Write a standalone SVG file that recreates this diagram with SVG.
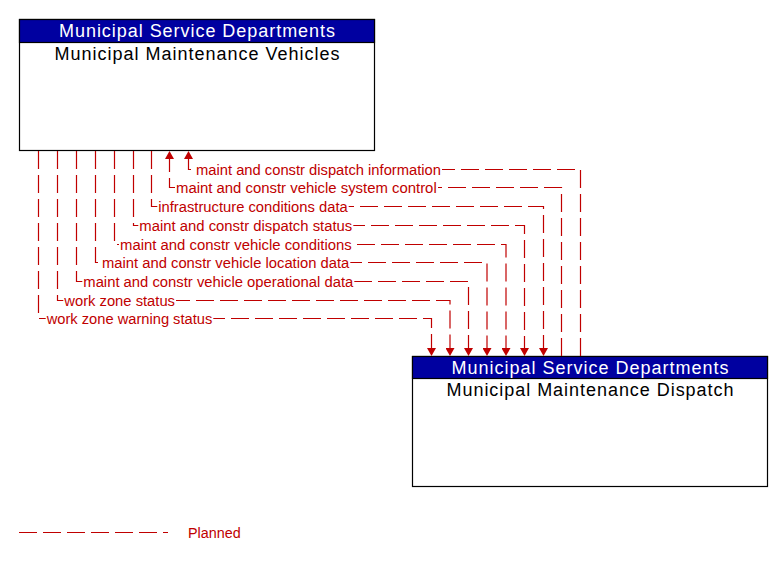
<svg xmlns="http://www.w3.org/2000/svg" width="783" height="561" viewBox="0 0 783 561">
<style>
.box{fill:#ffffff;stroke:#000000;stroke-width:1.2}
.hdr{fill:#0000a0;stroke:#000000;stroke-width:1.2}
.htxt{font-family:"Liberation Sans",Arial,sans-serif;font-size:18px;fill:#ffffff;text-anchor:middle}
.ntxt{font-family:"Liberation Sans",Arial,sans-serif;font-size:18px;fill:#000000;text-anchor:middle}
.flow{fill:none;stroke:#c00000;stroke-width:1.2;stroke-dasharray:18 6}
.lbl{font-family:"Liberation Sans",Arial,sans-serif;font-size:14.75px;fill:#c00000}
.bg{fill:#ffffff}
</style>
<defs>
<marker id="arr" markerUnits="userSpaceOnUse" markerWidth="8" markerHeight="9" viewBox="0 0 8 9" refX="8" refY="4.5" orient="auto">
<path d="M0,0 L8,4.5 L0,9 z" fill="#c00000"/>
</marker>
</defs>
<g id="node-vehicles">
<rect class="box" x="19.5" y="19.5" width="355" height="131"/>
<rect class="hdr" x="19.5" y="19.5" width="355" height="23"/>
<text class="htxt" x="197" y="37" textLength="276" lengthAdjust="spacing">Municipal Service Departments</text>
<text class="ntxt" x="197" y="60" textLength="285" lengthAdjust="spacing">Municipal Maintenance Vehicles</text>
</g>
<g id="node-dispatch">
<rect class="box" x="412.5" y="356.5" width="355" height="130"/>
<rect class="hdr" x="412.5" y="356.5" width="355" height="22"/>
<text class="htxt" x="590" y="374" textLength="277" lengthAdjust="spacing">Municipal Service Departments</text>
<text class="ntxt" x="590" y="396" textLength="287" lengthAdjust="spacing">Municipal Maintenance Dispatch</text>
</g>
<g id="connectors">
<path class="flow" d="M580.5,356 V169.5 H188.5 V151" marker-end="url(#arr)"/>
<path class="flow" d="M561.5,356 V187.5 H169.5 V151" marker-end="url(#arr)"/>
<path class="flow" d="M151.5,151 V206.5 H543.5 V356" marker-end="url(#arr)"/>
<path class="flow" d="M133.5,151 V225.5 H524.5 V356" marker-end="url(#arr)"/>
<path class="flow" d="M114.5,151 V244.5 H506 V356" marker-end="url(#arr)"/>
<path class="flow" d="M95.5,151 V262.5 H487 V356" marker-end="url(#arr)"/>
<path class="flow" d="M76.5,151 V281.5 H468.5 V356" marker-end="url(#arr)"/>
<path class="flow" d="M57.5,151 V300.5 H450 V356" marker-end="url(#arr)"/>
<path class="flow" d="M38.5,151 V318.5 H431.5 V356" marker-end="url(#arr)"/>
<rect class="bg" x="195" y="167.5" width="247" height="4"/>
<text class="lbl" x="196" y="174.5" textLength="245" lengthAdjust="spacingAndGlyphs">maint and constr dispatch information</text>
<rect class="bg" x="175" y="185.5" width="263" height="4"/>
<text class="lbl" x="176" y="192.5" textLength="260.7" lengthAdjust="spacingAndGlyphs">maint and constr vehicle system control</text>
<rect class="bg" x="157.3" y="204.5" width="191.4" height="4"/>
<text class="lbl" x="158.3" y="211.5" textLength="189.4" lengthAdjust="spacingAndGlyphs">infrastructure conditions data</text>
<rect class="bg" x="138.3" y="223.5" width="215" height="4"/>
<text class="lbl" x="139.3" y="230.5" textLength="213" lengthAdjust="spacingAndGlyphs">maint and constr dispatch status</text>
<rect class="bg" x="119" y="242.5" width="233.7" height="4"/>
<text class="lbl" x="120" y="249.5" textLength="231.7" lengthAdjust="spacingAndGlyphs">maint and constr vehicle conditions</text>
<rect class="bg" x="101" y="260.5" width="249.3" height="4"/>
<text class="lbl" x="102" y="267.5" textLength="247.3" lengthAdjust="spacingAndGlyphs">maint and constr vehicle location data</text>
<rect class="bg" x="82.3" y="279.5" width="272" height="4"/>
<text class="lbl" x="83.3" y="286.5" textLength="270" lengthAdjust="spacingAndGlyphs">maint and constr vehicle operational data</text>
<rect class="bg" x="63.3" y="298.5" width="112.7" height="4"/>
<text class="lbl" x="64.3" y="305.5" textLength="110.7" lengthAdjust="spacingAndGlyphs">work zone status</text>
<rect class="bg" x="45.7" y="316.5" width="167.6" height="4"/>
<text class="lbl" x="46.7" y="323.5" textLength="165.6" lengthAdjust="spacingAndGlyphs">work zone warning status</text>
</g>
<g id="legend">
<path class="flow" d="M19,532.5 H168"/>
<text class="lbl" x="188" y="537.5" font-size="14" textLength="52.7" lengthAdjust="spacingAndGlyphs">Planned</text>
</g>
</svg>
